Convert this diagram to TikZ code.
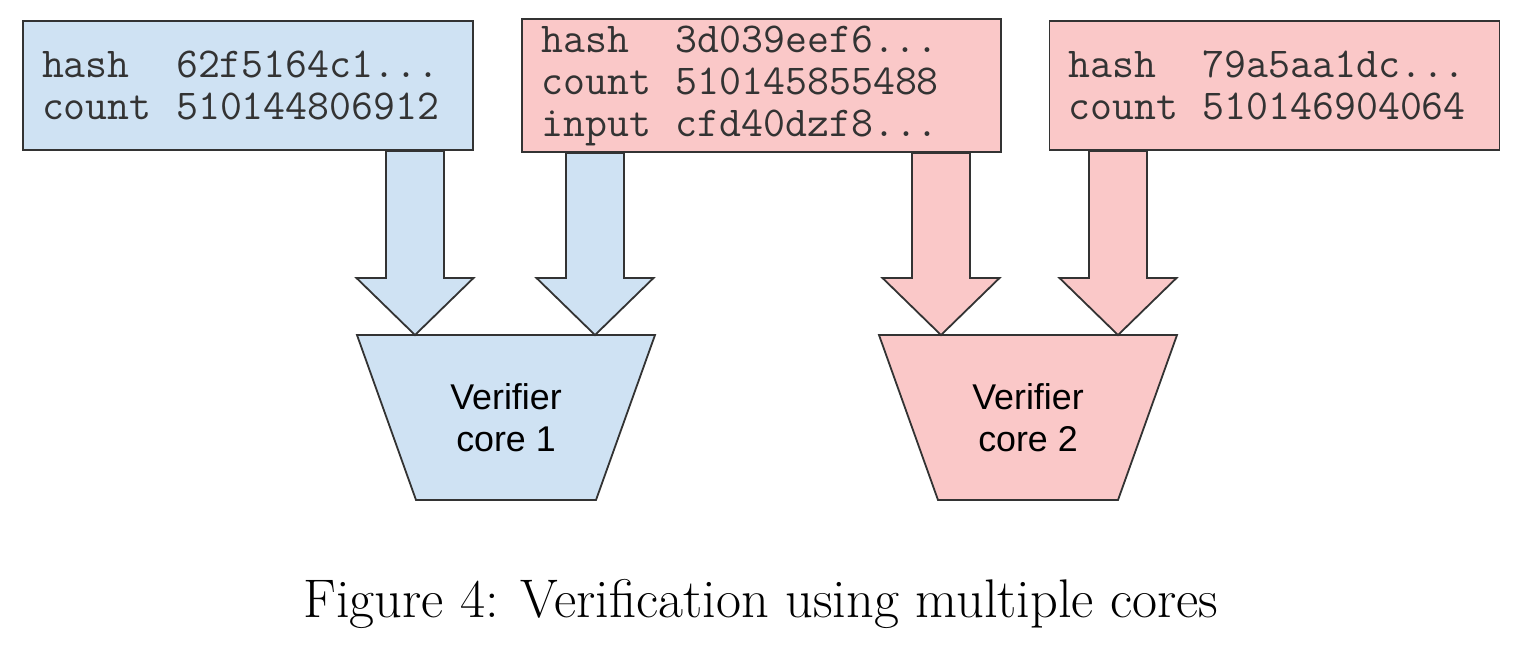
\documentclass[tikz,border=0pt]{standalone}
\usepackage{fontspec}
\newfontfamily\corefont{Liberation Sans}
\usetikzlibrary{calc}

\definecolor{coreblue}{HTML}{CFE2F3}
\definecolor{corepink}{HTML}{FAC8C8}
\definecolor{edgegray}{HTML}{333333}

\DeclareRobustCommand{\hashfont}{\ttfamily\fontsize{21.3}{21}\selectfont}
% field name padded to six typewriter cells
\newcommand{\fieldname}[1]{\makebox[3.15em][l]{#1}}

% block arrow from the bottom of a box down to a tip coordinate
\newcommand{\fatarrow}[3]{%
  \draw[#1] let \p1=(#3.south -| #2), \p2=(#2) in
    (\x1-14.5pt,\y1) -- (\x1+14.5pt,\y1) -- (\x1+14.5pt,\y2+28.5pt)
    -- (\x1+29.25pt,\y2+28.5pt) -- (\p2) -- (\x1-29.25pt,\y2+28.5pt)
    -- (\x1-14.5pt,\y2+28.5pt) -- cycle;}

% trapezoid body of a verifier core round a centre coordinate
\newcommand{\corebody}[2]{%
  \draw[corebody, fill=#1] ($(#2)+(-149,-82.5)$) -- ($(#2)+(149,-82.5)$)
    -- ($(#2)+(90,82.5)$) -- ($(#2)+(-90,82.5)$) -- cycle;}

\begin{document}
\begin{tikzpicture}[
    x=0.5pt, y=-0.5pt,
    hashbox/.style={rectangle, draw=edgegray, line width=0.9pt, minimum width=225pt, minimum height=64.5pt,
        text width=206pt, inner xsep=9.5pt, align=left, text=black!80, font=\hashfont},
    corebody/.style={draw=edgegray, line width=0.9pt, line join=miter},
    corelabel/.style={align=center, font=\corefont\fontsize{17.9}{21}\selectfont},
    bluearrow/.style={draw=edgegray, fill=coreblue, line width=0.9pt, line join=miter},
    pinkarrow/.style={draw=edgegray, fill=corepink, line width=0.9pt, line join=miter}
]
    \useasboundingbox (0,0) rectangle (1526,645);

    % Input records
    \node[hashbox, fill=coreblue] (rec1) at (248,85.5)
        {\fieldname{hash}62f5164c1...\\\fieldname{count}510144806912};
    \node[hashbox, fill=corepink, minimum width=239.5pt, text width=220pt] (rec2) at (761.5,85.5)
        {\fieldname{hash}3d039eef6...\\\fieldname{count}510145855488\\\fieldname{input}cfd40dzf8...};
    \node[hashbox, fill=corepink] (rec3) at (1274.5,85.5)
        {\fieldname{hash}79a5aa1dc...\\\fieldname{count}510146904064};

    % Verifier cores
    \coordinate (c1) at (506,417.5);
    \coordinate (c2) at (1028,417.5);
    \corebody{coreblue}{c1}
    \corebody{corepink}{c2}
    \node[corelabel] (core1) at (c1) {Verifier\\core 1};
    \node[corelabel] (core2) at (c2) {Verifier\\core 2};

    % Arrow tips on the cores
    \coordinate (tip1) at ($(c1)+(-91,-82.5)$);
    \coordinate (tip2) at ($(c1)+(89,-82.5)$);
    \coordinate (tip3) at ($(c2)+(-87,-82.5)$);
    \coordinate (tip4) at ($(c2)+(90,-82.5)$);

    % Arrows from records to cores
    \fatarrow{bluearrow}{tip1}{rec1}
    \fatarrow{bluearrow}{tip2}{rec2}
    \fatarrow{pinkarrow}{tip3}{rec2}
    \fatarrow{pinkarrow}{tip4}{rec3}

    % Caption
    \node[font=\fontsize{27.2}{32}\selectfont] (caption) at (761,604) {Figure 4: Verification using multiple cores};

\end{tikzpicture}
\end{document}
